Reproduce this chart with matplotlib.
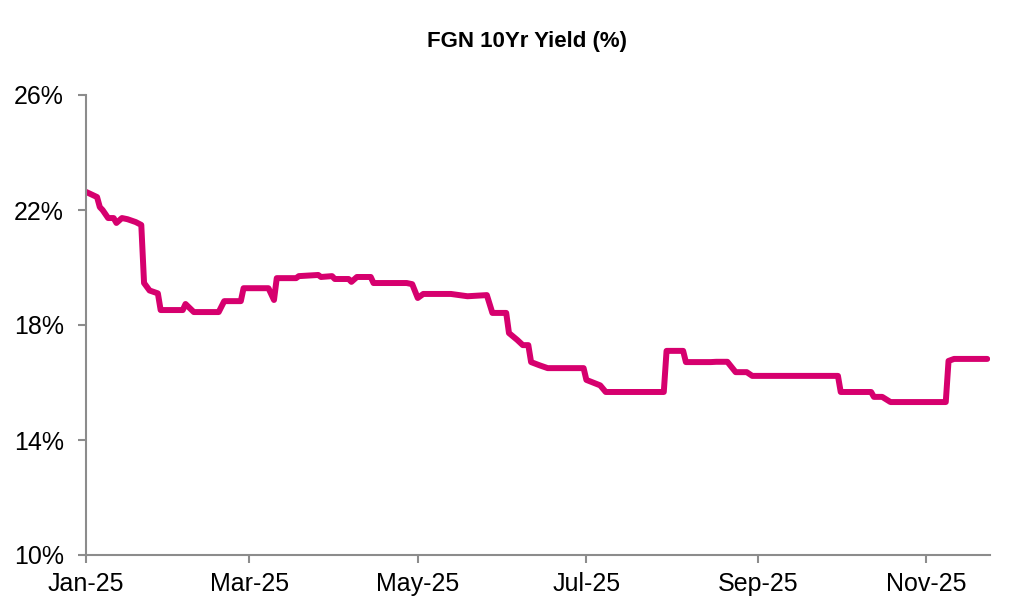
"""
FGN 10Yr yield line chart, Jan-Nov 2025.
"""

import matplotlib

matplotlib.use("Agg")
import matplotlib.dates as mdates
import matplotlib.pyplot as plt
import numpy as np
import pandas as pd
from matplotlib.ticker import FuncFormatter

# vertices of the (mostly step-like) yield series
DATES = [
    "2025-01-01", "2025-01-05", "2025-01-06", "2025-01-07", "2025-01-09",
    "2025-01-11", "2025-01-12", "2025-01-14", "2025-01-16", "2025-01-19",
    "2025-01-21", "2025-01-22", "2025-01-24", "2025-01-27", "2025-01-28",
    "2025-02-05", "2025-02-06", "2025-02-09", "2025-02-18", "2025-02-20",
    "2025-02-26", "2025-02-27", "2025-03-08", "2025-03-10", "2025-03-11",
    "2025-03-18", "2025-03-19", "2025-03-26", "2025-03-27", "2025-03-31",
    "2025-04-01", "2025-04-06", "2025-04-07", "2025-04-09", "2025-04-14",
    "2025-04-15", "2025-04-27", "2025-04-29", "2025-05-01", "2025-05-03",
    "2025-05-13", "2025-05-19", "2025-05-26", "2025-05-28", "2025-06-02",
    "2025-06-03", "2025-06-06", "2025-06-08", "2025-06-10", "2025-06-11",
    "2025-06-14", "2025-06-17", "2025-06-30", "2025-07-01", "2025-07-06",
    "2025-07-08", "2025-07-29", "2025-07-30", "2025-08-05", "2025-08-06",
    "2025-08-15", "2025-08-17", "2025-08-21", "2025-08-24", "2025-08-28",
    "2025-08-30", "2025-09-30", "2025-10-01", "2025-10-12", "2025-10-13",
    "2025-10-16", "2025-10-19", "2025-11-08", "2025-11-09", "2025-11-11",
    "2025-11-23",
]
YIELDS = [
    22.63, 22.45, 22.10, 22.00, 21.72,
    21.72, 21.55, 21.72, 21.68, 21.58,
    21.48, 19.46, 19.20, 19.10, 18.52,
    18.52, 18.73, 18.45, 18.45, 18.83,
    18.83, 19.28, 19.28, 18.87, 19.63,
    19.63, 19.70, 19.74, 19.67, 19.70,
    19.60, 19.60, 19.50, 19.67, 19.67,
    19.46, 19.46, 19.42, 18.94, 19.08,
    19.08, 19.00, 19.04, 18.42, 18.42,
    17.72, 17.48, 17.30, 17.30, 16.71,
    16.60, 16.50, 16.50, 16.09, 15.90,
    15.67, 15.67, 17.10, 17.10, 16.71,
    16.71, 16.72, 16.72, 16.36, 16.36,
    16.23, 16.23, 15.67, 15.67, 15.50,
    15.50, 15.32, 15.32, 16.75, 16.82,
    16.82,
]

Y_TICKS = [10, 14, 18, 22, 26]
X_TICKS = ["2025-01-01", "2025-03-01", "2025-05-01", "2025-07-01", "2025-09-01", "2025-11-01"]

LINE_COLOR = "#d6006e"
AXIS_COLOR = "#8c8c8c"

plt.rcParams["font.family"] = ["Liberation Sans", "DejaVu Sans"]

dates = pd.to_datetime(DATES)

fig = plt.figure(figsize=(10.24, 6.14), dpi=100)
ax = fig.add_axes([86 / 1024, 59 / 614, 904 / 1024, 460 / 614])

ax.plot(dates, YIELDS, color=LINE_COLOR, linewidth=4.3, solid_joinstyle="round", solid_capstyle="round")

ax.set_ylim(10, 26)
ax.set_yticks(Y_TICKS)
ax.yaxis.set_major_formatter(FuncFormatter(lambda v, _: f"{v:.0f}%"))

ax.set_xlim(pd.Timestamp("2025-01-01"), pd.Timestamp("2025-11-24"))
ax.set_xticks(pd.to_datetime(X_TICKS))
ax.xaxis.set_major_formatter(mdates.DateFormatter("%b-%y"))

for side in ("top", "right"):
    ax.spines[side].set_visible(False)
for side in ("left", "bottom"):
    ax.spines[side].set_color(AXIS_COLOR)
    ax.spines[side].set_linewidth(1.5)

ax.tick_params(axis="both", direction="out", length=6, width=1.5, color=AXIS_COLOR,
               labelsize=18, labelcolor="black")
ax.tick_params(axis="x", pad=6)
ax.tick_params(axis="y", pad=10)

fig.text(0.515, 0.932, "FGN 10Yr Yield (%)", ha="center", va="center", fontsize=16, fontweight="bold")

fig.savefig("out.png", dpi=100)
plt.close(fig)
